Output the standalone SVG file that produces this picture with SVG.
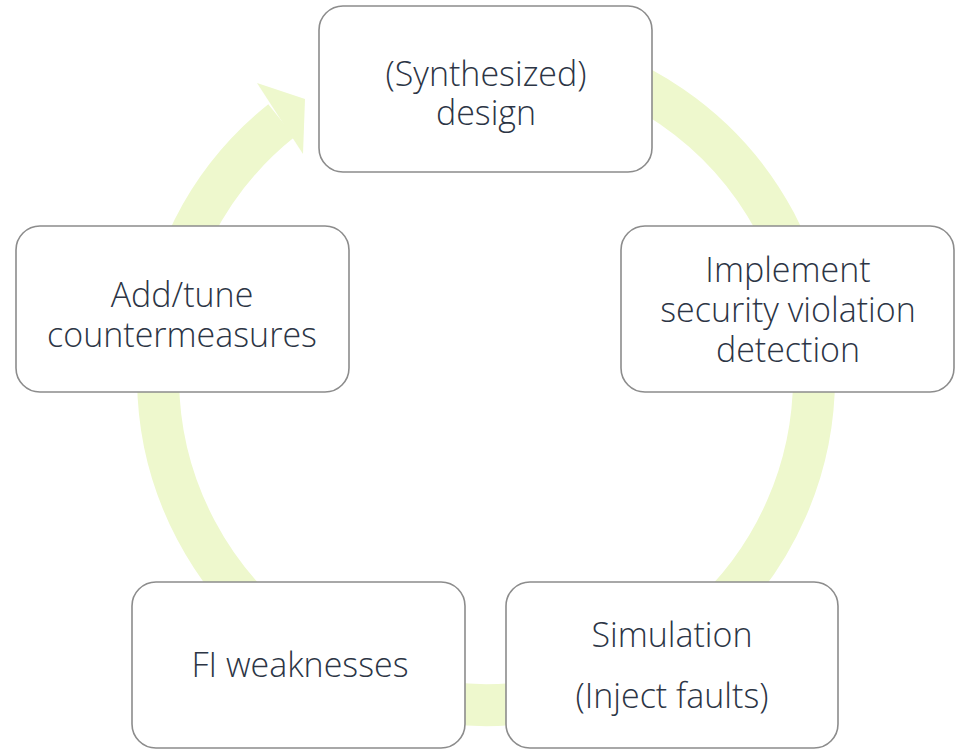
<svg xmlns="http://www.w3.org/2000/svg" width="955" height="750" viewBox="0 0 955 750">
<style>
.box{fill:#ffffff;stroke:#8c8c8c;stroke-width:1.6}
.t{font-family:"Open Sans","Liberation Sans",sans-serif;font-weight:300;font-size:34px;fill:#2c3545;text-anchor:middle}
.ring{fill:none;stroke:#eef8cd;stroke-width:42}
</style>
<rect width="955" height="750" fill="#ffffff"/>
<g id="connectors">
<path class="ring" d="M542.9,54 A328,328 0 1 1 281.4,120.7"/>
<polygon points="257,83 305,99 303,154" fill="#eef8cd"/>
</g>
<g id="node-design">
<rect class="box" x="319" y="6" width="333" height="166" rx="24"/>
<text class="t" x="486" y="86">(Synthesized)</text>
<text class="t" x="486" y="125">design</text>
</g>
<g id="node-detection">
<rect class="box" x="621" y="226" width="333" height="166" rx="24"/>
<text class="t" x="788" y="282">Implement</text>
<text class="t" x="788" y="322">security violation</text>
<text class="t" x="788" y="362">detection</text>
</g>
<g id="node-simulation">
<rect class="box" x="506" y="582" width="332" height="166" rx="24"/>
<text class="t" x="672" y="647">Simulation</text>
<text class="t" x="672" y="708">(Inject faults)</text>
</g>
<g id="node-weaknesses">
<rect class="box" x="132" y="582" width="333" height="166" rx="24"/>
<text class="t" x="300" y="677">FI weaknesses</text>
</g>
<g id="node-countermeasures">
<rect class="box" x="16" y="226" width="333" height="166" rx="24"/>
<text class="t" x="182" y="307">Add/tune</text>
<text class="t" x="182" y="347">countermeasures</text>
</g>
</svg>
